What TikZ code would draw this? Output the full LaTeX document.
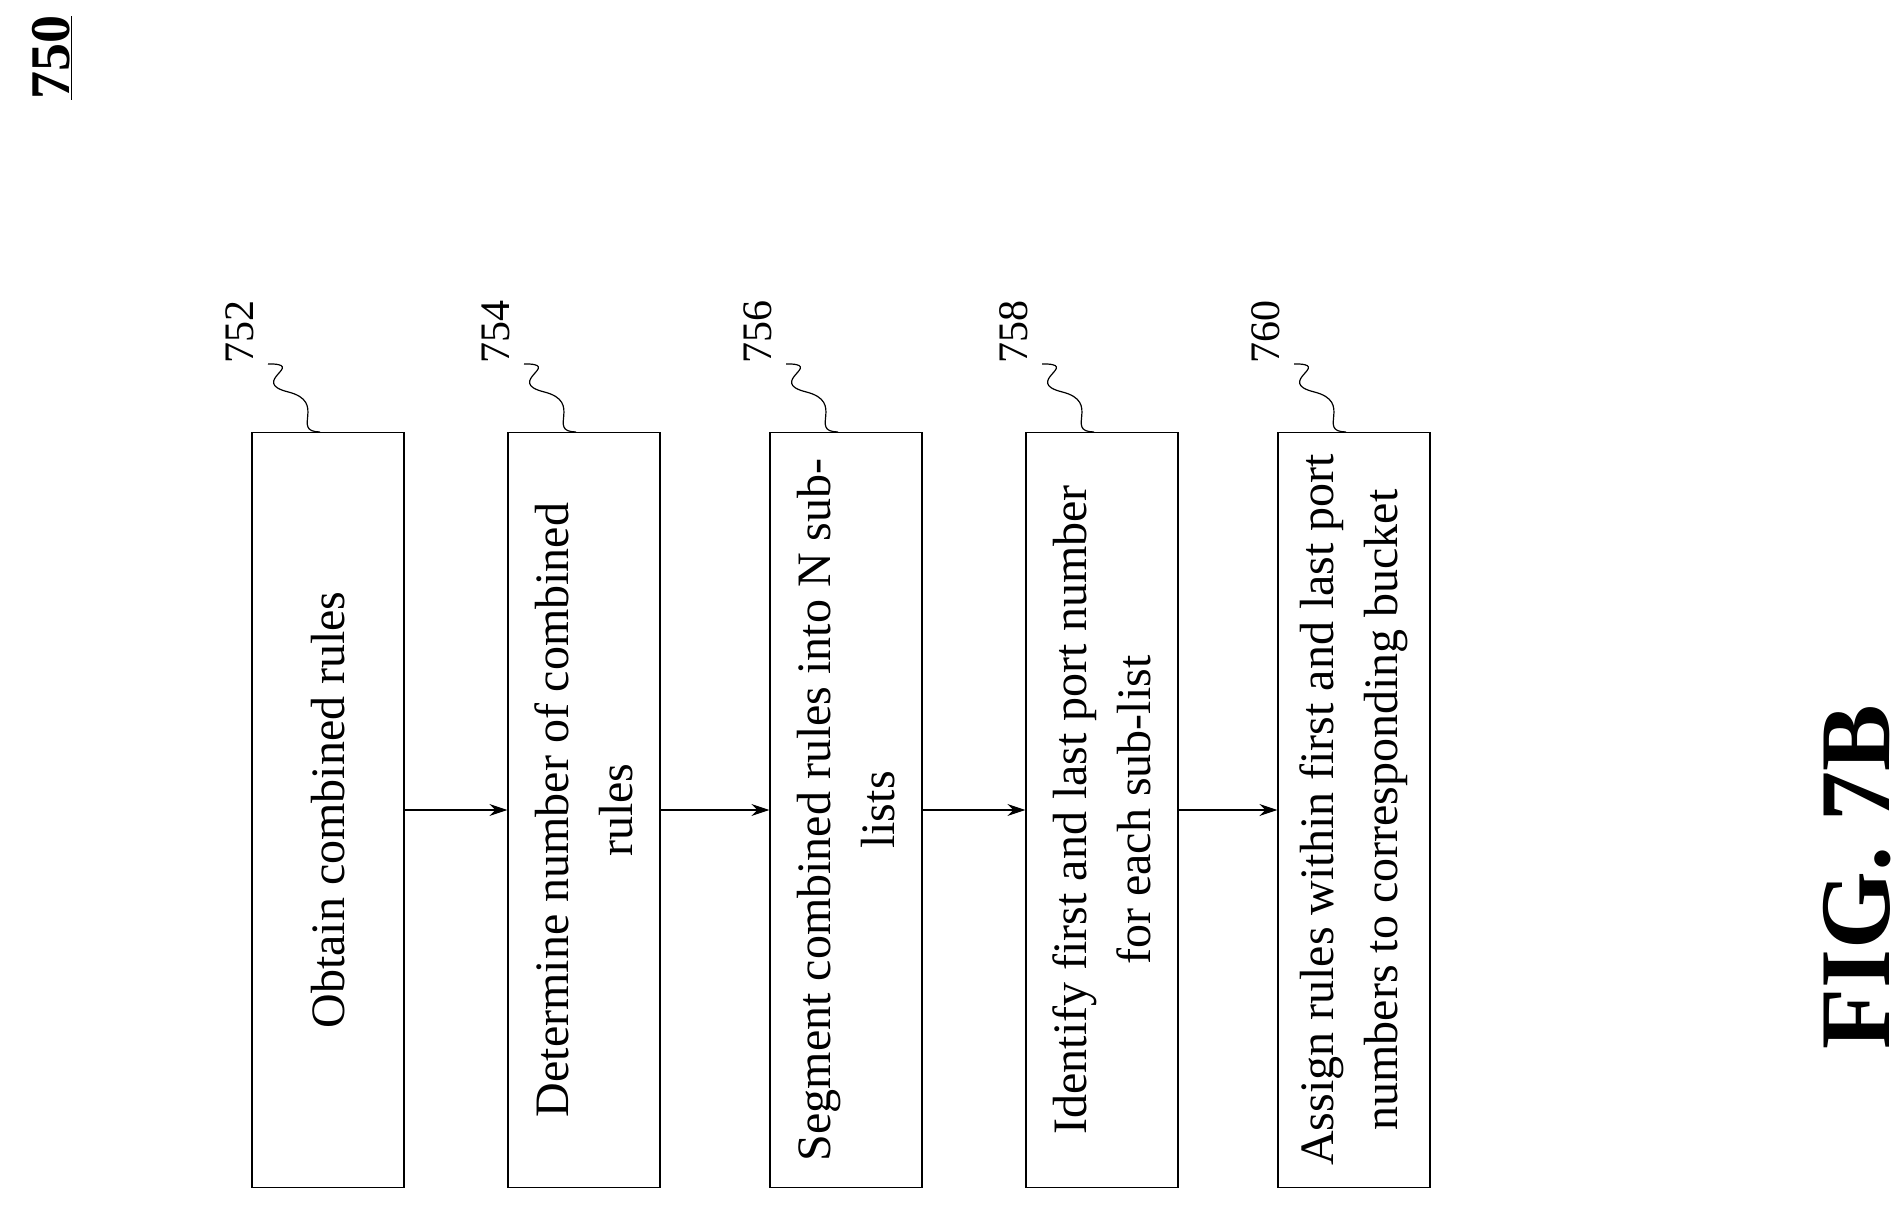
\documentclass[tikz,border=0pt]{standalone}
\usepackage{fontspec}
\setmainfont{Liberation Serif}
\usetikzlibrary{arrows.meta,calc}
\begin{document}
\begin{tikzpicture}[x=1pt,y=-1pt,
  box/.style={draw,line width=1.2pt,rotate=90,minimum width=755pt,minimum height=152pt,align=center,font=\fontsize{48}{64}\selectfont,inner sep=0pt},
  arr/.style={-{Stealth[length=18pt,width=12pt]},line width=1.2pt},
  lab/.style={rotate=90,font=\fontsize{42}{46}\selectfont},
  sq/.style={line width=1.2pt}]
\useasboundingbox (0,0) rectangle (1900,1209);
\node[rotate=90,font=\bfseries\fontsize{56}{60}\selectfont] (n750) at (52,58) {\underline{750}};
\node[box] (b1) at (328,810) {Obtain combined rules};
\node[box] (b2) at (584,810) {Determine number of combined\\rules};
\node[box] (b3) at (846,810) {Segment combined rules into N sub-\\lists};
\node[box] (b4) at (1102,810) {Identify first and last port number\\for each sub-list};
\node[box] (b5) at (1354,810) {Assign rules within first and last port\\numbers to corresponding bucket};
\foreach \a/\b in {b1/b2,b2/b3,b3/b4,b4/b5}{\draw[arr] (\a.south) -- (\b.north);}
\foreach \b/\n [count=\i] in {b1/752,b2/754,b3/756,b4/758,b5/760}{
  \node[lab] (l\n) at ($(\b.east)+(-88,-100)$) {\n};
  \coordinate (s\n) at ($(\b.east)+(-60,-68)$);
  \draw[sq] (s\n) .. controls +(40,0) and +(-40,-10) .. ($(s\n)+(20,28)$) .. controls +(40,10) and +(-30,0) .. ($(\b.east)+(-8,0)$);
}
\node[rotate=90,font=\bfseries\fontsize{100}{104}\selectfont] (fig) at (1857,877) {FIG. 7B};
\end{tikzpicture}
\end{document}
